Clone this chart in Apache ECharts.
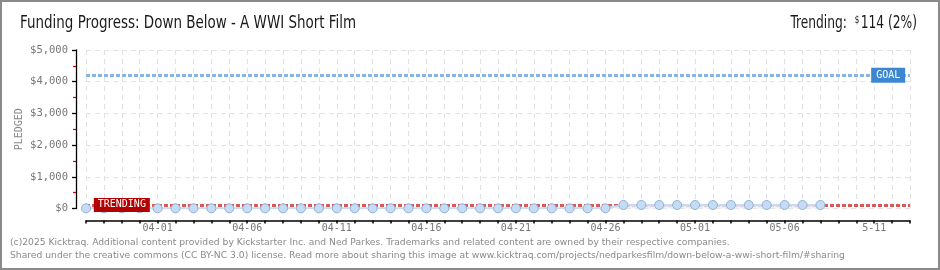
<!DOCTYPE html>
<html>
<head>
<meta charset="utf-8">
<script src="https://cdn.jsdelivr.net/npm/echarts@6/dist/echarts.min.js"></script>
<style>
html,body{margin:0;padding:0;background:#fff;}
#c{width:940px;height:270px;}
</style>
</head>
<body>
<div id="c"></div>
<script>
// ---- data ----
const categories = ['03-28','03-29','03-30','03-31','04-01','04-02','04-03','04-04','04-05','04-06',
  '04-07','04-08','04-09','04-10','04-11','04-12','04-13','04-14','04-15','04-16',
  '04-17','04-18','04-19','04-20','04-21','04-22','04-23','04-24','04-25','04-26',
  '04-27','04-28','04-29','04-30','05-01','05-02','05-03','05-04','05-05','05-06',
  '05-07','05-08','05-09','05-10','05-11','05-12','05-13'];
const pledged = [5,5,5,5,5,5,5,5,5,5,
  5,5,5,5,5,5,5,5,5,5,
  5,5,5,5,5,5,5,5,5,5,
  110,110,110,110,110,110,110,110,110,110,
  110,110];
const goal = 4200;
const trending = 114;
const trendingPct = '2%';
const tickLabelDates = ['04-01','04-06','04-11','04-16','04-21','04-26','05-01','05-06','05-11'];
const tickLabelTexts = ['04-01','04-06','04-11','04-16','04-21','04-26','05-01','05-06','5-11'];
const titleText = 'Funding Progress: Down Below - A WWI Short Film';
const footer1 = '(c)2025 Kicktraq. Additional content provided by Kickstarter Inc. and Ned Parkes. Trademarks and related content are owned by their respective companies.';
const footer2 = 'Shared under the creative commons (CC BY-NC 3.0) license. Read more about sharing this image at www.kicktraq.com/projects/nedparkesfilm/down-below-a-wwi-short-film/#sharing';

const chart = echarts.init(document.getElementById('c'), null, {renderer:'canvas'});
const pix = 'DejaVu Sans Mono';
const cond = '"DejaVu Sans Condensed","Liberation Sans Narrow",sans-serif';

chart.setOption({
  animation:false,
  backgroundColor:'#fff',
  title:[
    {text:footer1,left:10,top:238,padding:0,
     textStyle:{fontFamily:'DejaVu Sans',fontSize:9.2,fontWeight:'normal',color:'#8a8a8a'}},
    {text:footer2,left:10,top:251,padding:0,
     textStyle:{fontFamily:'DejaVu Sans',fontSize:9.2,fontWeight:'normal',color:'#8a8a8a'}}
  ],
  graphic:[
    {type:'rect',shape:{x:1,y:1,width:938,height:268},style:{fill:'none',stroke:'#8a8a8a',lineWidth:2},z:100},
    {type:'text',x:20,y:24,scaleX:0.88,
     style:{text:titleText,fontFamily:cond,fontSize:17,fill:'#1a1a1a',align:'left',verticalAlign:'middle'}},
    {type:'text',x:917,y:24,scaleX:0.8,
     style:{text:'{a|Trending:  }{s|$}{a|' + trending + ' (' + trendingPct + ')}',align:'right',verticalAlign:'middle',
       rich:{
         a:{fontFamily:cond,fontSize:17,fontWeight:'normal',fill:'#1a1a1a'},
         s:{fontFamily:cond,fontSize:10,fontWeight:'normal',fill:'#1a1a1a',verticalAlign:'top',padding:[0,2,7,0]}
       }}}
  ],
  grid:{left:86,right:30,top:50,bottom:61.5,containLabel:false},
  xAxis:{
    type:'category',data:categories,boundaryGap:false,offset:12,
    axisLine:{show:true,onZero:false,lineStyle:{color:'#000',width:1.5}},
    axisTick:{show:true,interval:0,length:3,lineStyle:{color:'#000',width:1.5}},
    axisLabel:{interval:0,fontFamily:pix,fontSize:10,color:'#777',margin:3,
      formatter:function(v){const i=tickLabelDates.indexOf(v);return i>=0?tickLabelTexts[i]:'';}},
    splitLine:{show:true,interval:0,lineStyle:{color:'#e2e2e2',type:[5,4],width:1}}
  },
  yAxis:{
    type:'value',min:0,max:5000,interval:1000,offset:10,
    name:'PLEDGED',nameLocation:'middle',nameGap:52,nameRotate:90,nameMoveOverlap:false,
    nameTextStyle:{fontFamily:pix,fontSize:10,color:'#888'},
    axisLine:{show:true,lineStyle:{color:'#000',width:1.3}},
    axisTick:{show:true,length:4,lineStyle:{color:'#000',width:1.3}},
    minorTick:{show:true,splitNumber:2,length:3,lineStyle:{color:'#e00000',width:1.3}},
    axisLabel:{fontFamily:pix,fontSize:10.5,color:'#777',margin:8,
      formatter:function(v){return '$'+v.toLocaleString('en-US');}},
    splitLine:{show:true,lineStyle:{color:'#e2e2e2',type:[5,4],width:1}}
  },
  series:[
    {
      type:'line',data:pledged,symbol:'circle',symbolSize:9,z:5,
      lineStyle:{color:'#c6dcf4',width:2},
      itemStyle:{color:'#c6dcf4',borderColor:'#8fb0da',borderWidth:1},
      areaStyle:{color:'#e6effa',opacity:0.8},
      markLine:{
        silent:true,symbol:'none',z:3,
        label:{show:false},
        data:[
          {yAxis:goal,lineStyle:{color:'#88b4e4',width:3,type:[4,2]}},
          {yAxis:trending,lineStyle:{color:'#d65a5a',width:3,type:[4,2]}}
        ]
      },
      markPoint:{
        silent:true,z:10,
        data:[
          {coord:['05-11',goal],symbol:'rect',symbolSize:[34,15],symbolOffset:[14,0],
           itemStyle:{color:'#3c87d2'},
           label:{show:true,formatter:'GOAL',color:'#fff',fontFamily:pix,fontSize:10}},
          {coord:['03-30',trending],symbol:'rect',symbolSize:[56,14],
           itemStyle:{color:'#b40000'},
           label:{show:true,formatter:'TRENDING',color:'#fff',fontFamily:pix,fontSize:10}}
        ]
      }
    }
  ]
});
</script>
</body>
</html>
